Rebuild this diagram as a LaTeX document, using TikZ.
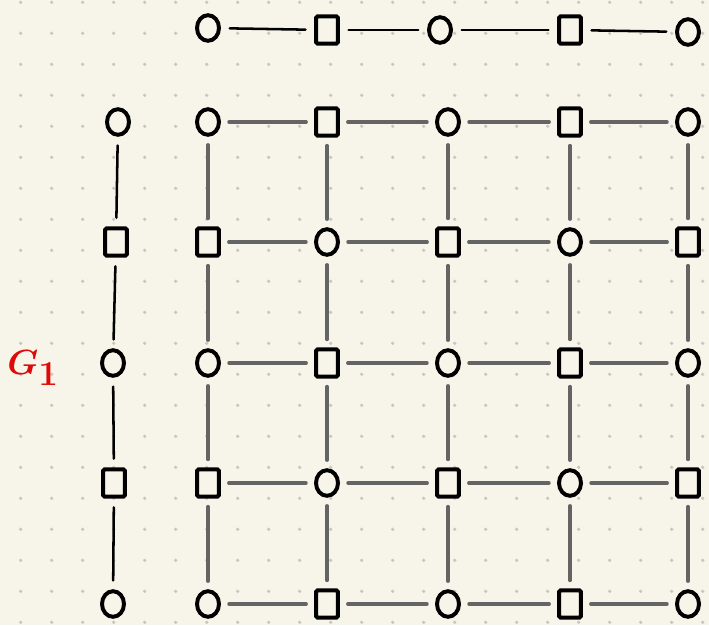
\documentclass[tikz,border=0pt]{standalone}
\usepackage{amsmath, amssymb}
\usepackage{tikz}
\usetikzlibrary{shapes.geometric, positioning}

\definecolor{paper}{RGB}{247,245,233}
\definecolor{dotgray}{RGB}{200,198,190}
\definecolor{edgegray}{RGB}{100,100,100}
\definecolor{inkred}{RGB}{220,10,10}

\begin{document}
\begin{tikzpicture}[
    x=0.025cm, y=-0.025cm,
    circ/.style={ellipse, draw=black, line width=2.8pt, fill=paper, minimum width=0.55cm, minimum height=0.64cm, inner sep=0pt},
    sq/.style={rectangle, draw=black, line width=2.8pt, fill=paper, rounded corners=1pt, minimum width=0.54cm, minimum height=0.68cm, inner sep=0pt},
    link/.style={draw=edgegray, line width=2.4pt, line cap=round, shorten >=0.2cm, shorten <=0.2cm},
    spine/.style={draw=black, line width=1.8pt, line cap=round, shorten >=0.22cm, shorten <=0.22cm}
]
% Paper and dot grid
\useasboundingbox (0,0) rectangle (709,625);
\fill[paper] (0,0) rectangle (709,625);
\foreach \i in {0,...,22} {
    \foreach \j in {0,...,20} {
        \fill[dotgray] (20.7+31*\i, 2.3+31*\j) circle (1.8);
    }
}
% Grid vertices (checkerboard of circles and squares)
\foreach \x [count=\c] in {208,327,448,570,688} {
    \foreach \y [count=\r] in {122,242,363,483,604} {
        \pgfmathtruncatemacro\parity{mod(\c+\r,2)}
        \ifnum\parity=0
            \node[circ] (g-\r-\c) at (\x,\y) {};
        \else
            \node[sq] (g-\r-\c) at (\x,\y) {};
        \fi
    }
}
% Grid edges
\foreach \r in {1,...,5} {
    \foreach \c/\n in {1/2,2/3,3/4,4/5} {
        \draw[link] (g-\r-\c) -- (g-\r-\n);
        \draw[link] (g-\c-\r) -- (g-\n-\r);
    }
}
% Top path
\node[circ] (t-1) at (208,28) {};
\node[sq]   (t-2) at (327,30) {};
\node[circ] (t-3) at (440,30) {};
\node[sq]   (t-4) at (570,30) {};
\node[circ] (t-5) at (688,32) {};
\foreach \a/\b in {1/2,2/3,3/4,4/5} {
    \draw[spine] (t-\a) -- (t-\b);
}
% Left path G_1
\node[circ] (l-1) at (118,122) {};
\node[sq]   (l-2) at (116,242) {};
\node[circ] (l-3) at (113,363) {};
\node[sq]   (l-4) at (114,483) {};
\node[circ] (l-5) at (113,604) {};
\foreach \a/\b in {1/2,2/3,3/4,4/5} {
    \draw[spine] (l-\a) -- (l-\b);
}
% Label
\node[text=inkred, font=\fontsize{40}{40}\selectfont] (lbl) at (33,368) {$\boldsymbol{G}_{\mathbf{1}}$};
\end{tikzpicture}
\end{document}
